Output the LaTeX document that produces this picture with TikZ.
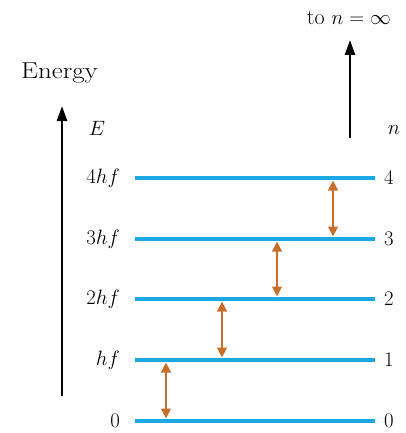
\documentclass[tikz,border=0pt]{standalone}
\usetikzlibrary{arrows.meta}
\definecolor{lvlblue}{HTML}{1BA8E4}
\definecolor{trorange}{HTML}{C86E2A}
\begin{document}
\begin{tikzpicture}[x=1pt,y=-1pt,
  level/.style={lvlblue,line width=4.2pt},
  trans/.style={trorange,line width=2.6pt,{Triangle[length=10pt,width=9.5pt]}-{Triangle[length=10pt,width=9.5pt]},shorten >=2.5pt,shorten <=2.5pt},
  axisarrow/.style={black,line width=2.6pt,-{Triangle[length=15pt,width=10pt]}},
  lbl/.style={font=\fontsize{22}{26}\selectfont,inner sep=0pt}]
\useasboundingbox (0,0) rectangle (405,433);
% levels
\foreach \n/\y in {0/421,1/360,2/299,3/239,4/178}{
  \coordinate (L\n) at (135,\y);
  \coordinate (R\n) at (375,\y);
  \draw[level] (L\n) -- (R\n);
}
% left labels
\node[lbl,anchor=east] (e4) at (120,178) {$4hf$};
\node[lbl,anchor=east] (e3) at (120,239) {$3hf$};
\node[lbl,anchor=east] (e2) at (120,299) {$2hf$};
\node[lbl,anchor=east] (e1) at (120,360) {$hf$};
\node[lbl,anchor=east] (e0) at (120,421) {$0$};
% right labels
\node[lbl,anchor=west] (n4) at (384,178) {$4$};
\node[lbl,anchor=west] (n3) at (384,239) {$3$};
\node[lbl,anchor=west] (n2) at (384,299) {$2$};
\node[lbl,anchor=west] (n1) at (384,360) {$1$};
\node[lbl,anchor=west] (n0) at (384,421) {$0$};
% transitions
\coordinate (t4a) at (333,178); \coordinate (t4b) at (333,239);
\coordinate (t3a) at (277,239); \coordinate (t3b) at (277,299);
\coordinate (t2a) at (222,299); \coordinate (t2b) at (222,360);
\coordinate (t1a) at (166,360); \coordinate (t1b) at (166,421);
\draw[trans] (t4a) -- (t4b);
\draw[trans] (t3a) -- (t3b);
\draw[trans] (t2a) -- (t2b);
\draw[trans] (t1a) -- (t1b);
% energy axis
\coordinate (ea) at (62,396);
\coordinate (eb) at (62,106);
\draw[axisarrow] (ea) -- (eb);
\node[lbl] (E) at (97,128) {$E$};
\node[lbl,anchor=base west] (energy) at (21,79) {\fontsize{23}{27}\selectfont\scalebox{1.17}[1]{Energy}};
% n axis
\coordinate (na) at (350,138);
\coordinate (nb) at (350,40);
\draw[axisarrow] (na) -- (nb);
\node[lbl] (n) at (394,130) {$n$};
\node[lbl,anchor=base east] (inf) at (391,25) {to $n=\infty$};
\end{tikzpicture}
\end{document}
